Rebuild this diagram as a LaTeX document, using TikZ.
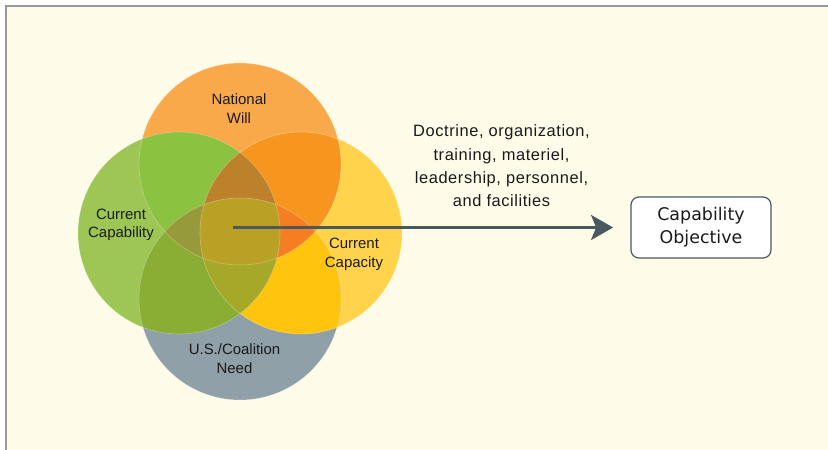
\documentclass[tikz,border=0pt]{standalone}
\usepackage{fontspec}
\setmainfont{Liberation Sans}
\newfontfamily\boxfont{DejaVu Sans}
\newfontfamily\spacedfont[LetterSpace=3.5]{Liberation Sans}
\usetikzlibrary{arrows.meta}
\definecolor{bgcream}{HTML}{FFFBE9}
\definecolor{framegray}{HTML}{999999}
\definecolor{cTop}{HTML}{F9A94A}
\definecolor{cLeft}{HTML}{9DC655}
\definecolor{cRight}{HTML}{FFD34C}
\definecolor{cBot}{HTML}{8FA0A8}
\definecolor{cTL}{HTML}{8BC23F}
\definecolor{cTR}{HTML}{F7961F}
\definecolor{cLB}{HTML}{89AE33}
\definecolor{cRB}{HTML}{FEC40E}
\definecolor{cTB}{HTML}{B9A125}
\definecolor{cLR}{HTML}{B9A125}
\definecolor{cTLR}{HTML}{BD802B}
\definecolor{cLRB}{HTML}{A6A82A}
\definecolor{cTLB}{HTML}{979A3A}
\definecolor{cTRB}{HTML}{F47E21}
\definecolor{cAll}{HTML}{B9A125}
\definecolor{slate}{HTML}{4A5960}
\definecolor{inktext}{HTML}{1A1A1A}
\tikzset{
  lbl/.style={align=center, font=\fontsize{15}{18.5}\selectfont, text=inktext, inner sep=0pt},
  doctext/.style={align=center, font=\spacedfont\fontsize{16.5}{23.5}\selectfont, text=inktext, inner sep=0pt},
  objbox/.style={draw=slate, line width=1.2bp, fill=white, rounded corners=8bp, minimum width=140bp, minimum height=61bp, align=center, font=\boxfont\fontsize{17.5}{23}\selectfont, text=inktext, inner sep=0pt},
  arr/.style={draw=slate, line width=3bp, -{Stealth[length=22bp, width=25bp, inset=5bp]}},
  rim/.style={draw=white, draw opacity=0.3, line width=0.6bp}
}
\begin{document}
\begin{tikzpicture}[x=1bp, y=-1bp]
\useasboundingbox (0,0) rectangle (828,450);
\fill[white] (0,0) rectangle (828,450);
\fill[bgcream] (6,6) rectangle (828,450);
\draw[framegray, line width=1.2bp] (6,450) -- (6,6) -- (828,6);
\coordinate (T) at (240,164);
\coordinate (L) at (179,233);
\coordinate (R) at (301,233);
\coordinate (B) at (240,299);
\def\rr{101bp}
% single circles
\fill[cTop] (T) circle[radius=\rr];
\fill[cLeft] (L) circle[radius=\rr];
\fill[cRight] (R) circle[radius=\rr];
\fill[cBot] (B) circle[radius=\rr];
% pairwise
\begin{scope}\clip (T) circle[radius=\rr]; \fill[cTL] (L) circle[radius=\rr]; \end{scope}
\begin{scope}\clip (T) circle[radius=\rr]; \fill[cTR] (R) circle[radius=\rr]; \end{scope}
\begin{scope}\clip (L) circle[radius=\rr]; \fill[cLB] (B) circle[radius=\rr]; \end{scope}
\begin{scope}\clip (R) circle[radius=\rr]; \fill[cRB] (B) circle[radius=\rr]; \end{scope}
\begin{scope}\clip (T) circle[radius=\rr]; \fill[cTB] (B) circle[radius=\rr]; \end{scope}
\begin{scope}\clip (L) circle[radius=\rr]; \fill[cLR] (R) circle[radius=\rr]; \end{scope}
% triples
\begin{scope}\clip (T) circle[radius=\rr]; \clip (L) circle[radius=\rr]; \fill[cTLR] (R) circle[radius=\rr]; \end{scope}
\begin{scope}\clip (L) circle[radius=\rr]; \clip (R) circle[radius=\rr]; \fill[cLRB] (B) circle[radius=\rr]; \end{scope}
\begin{scope}\clip (T) circle[radius=\rr]; \clip (L) circle[radius=\rr]; \fill[cTLB] (B) circle[radius=\rr]; \end{scope}
\begin{scope}\clip (T) circle[radius=\rr]; \clip (R) circle[radius=\rr]; \fill[cTRB] (B) circle[radius=\rr]; \end{scope}
% all four
\begin{scope}\clip (T) circle[radius=\rr]; \clip (L) circle[radius=\rr]; \clip (R) circle[radius=\rr]; \fill[cAll] (B) circle[radius=\rr]; \end{scope}
% faint rims
\draw[rim] (T) circle[radius=\rr];
\draw[rim] (L) circle[radius=\rr];
\draw[rim] (R) circle[radius=\rr];
\draw[rim] (B) circle[radius=\rr];
% labels
\node[lbl] (nw) at (239,108.5) {National\\Will};
\node[lbl] (cc) at (121,225) {Current\\Capability};
\node[lbl] (cp) at (354,254.5) {Current\\Capacity};
\node[lbl] (us) at (234.5,358.5) {U.S./Coalition\\Need};
\node[doctext] (doc) at (501.5,166) {Doctrine, organization,\\training, materiel,\\leadership, personnel,\\and facilities};
\node[objbox] (obj) at (701,227.5) {Capability\\Objective};
\coordinate (start) at (232.7,227.5);
\draw[arr] (start) -- ([xshift=-17.3bp]obj.west);
\end{tikzpicture}
\end{document}
